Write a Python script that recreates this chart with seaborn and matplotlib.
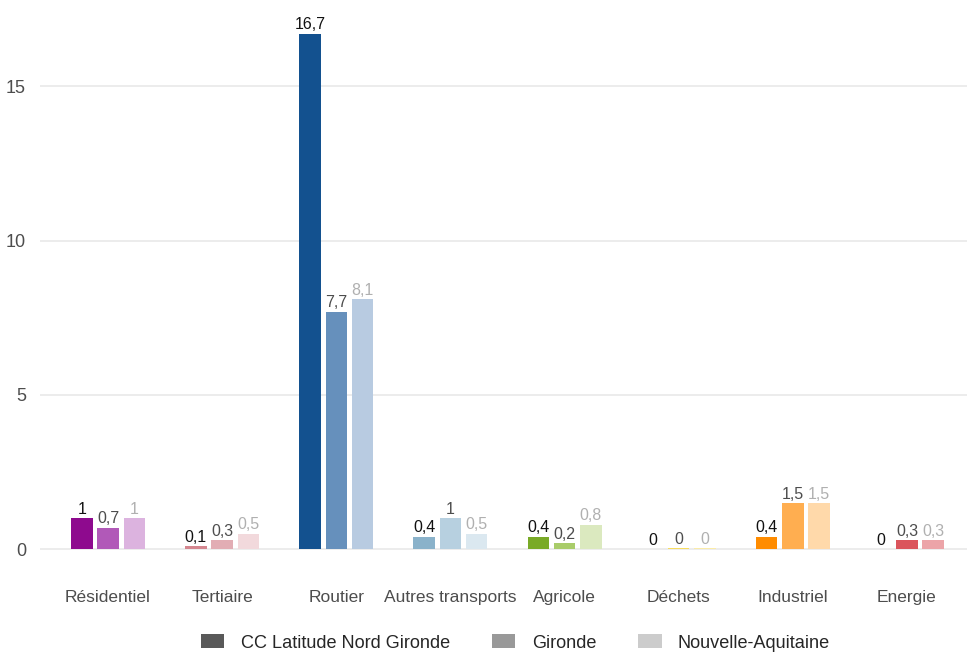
import pandas as pd
import seaborn as sns
import matplotlib.pyplot as plt
from matplotlib.patches import Patch

# données
secteurs = ["Résidentiel", "Tertiaire", "Routier", "Autres transports",
            "Agricole", "Déchets", "Industriel", "Energie"]
zones = ["CC Latitude Nord Gironde", "Gironde", "Nouvelle-Aquitaine"]
cc_lng = [1, 0.1, 16.7, 0.4, 0.4, 0, 0.4, 0]
gironde = [0.7, 0.3, 7.7, 1, 0.2, 0.04, 1.5, 0.3]
nouvelle_aquitaine = [1, 0.5, 8.1, 0.5, 0.8, 0.04, 1.5, 0.3]
y_ticks = [0, 5, 10, 15]

# couleurs par secteur (foncé, moyen, clair)
couleurs = [
    ["#8e0a8e", "#b159b8", "#dcb3df"],
    ["#d4868f", "#e2adb4", "#f2d9dc"],
    ["#13518f", "#6690bc", "#b8cbe1"],
    ["#8ab2ca", "#b7d0e0", "#dbe8f0"],
    ["#79aa27", "#a9cc6a", "#dbe9bf"],
    ["#f2c81a", "#f7dc5e", "#faeba8"],
    ["#ff8c00", "#ffae50", "#ffd9aa"],
    ["#cc1f28", "#db555c", "#eca4a8"],
]
couleurs_legende = ["#595959", "#999999", "#cccccc"]
couleurs_labels = ["#111111", "#4d4d4d", "#b0b0b0"]

df = pd.DataFrame({
    "secteur": secteurs * 3,
    "zone": [z for z in zones for _ in secteurs],
    "valeur": cc_lng + gironde + nouvelle_aquitaine,
})

sns.set_style("white")
plt.rcParams["font.family"] = ["Liberation Sans", "DejaVu Sans"]

fig = plt.figure(figsize=(9.67, 6.54), dpi=100)
ax = fig.add_axes([40 / 967, 79 / 654, 927 / 967, 567 / 654])

sns.barplot(data=df, x="secteur", y="valeur", hue="zone", order=secteurs,
            hue_order=zones, width=0.69, gap=0.18, ax=ax, legend=False,
            linewidth=0, saturation=1)

# recolorer chaque barre selon son secteur
for j, cont in enumerate(ax.containers):
    for i, bar in enumerate(cont):
        bar.set_facecolor(couleurs[i][j])
        bar.set_edgecolor("none")
    vals = [cc_lng, gironde, nouvelle_aquitaine][j]
    labels = [("%g" % round(v, 1)).replace(".", ",") for v in vals]
    ax.bar_label(cont, labels=labels, color=couleurs_labels[j], fontsize=11.5, padding=1)

ax.set_xlim(-0.596, 7.526)
ax.set_ylim(-0.835, 17.535)
ax.set_yticks(y_ticks)
ax.yaxis.grid(True, color="#ebebeb", linewidth=1.3)
ax.set_axisbelow(True)
for s in ax.spines.values():
    s.set_visible(False)
ax.set_xlabel("")
ax.set_ylabel("")
ax.tick_params(axis="x", length=0, pad=11, labelsize=12.5, labelcolor="#4d4d4d")
ax.tick_params(axis="y", length=0, pad=10, labelsize=13, labelcolor="#4d4d4d")

handles = [Patch(facecolor=c, edgecolor="none") for c in couleurs_legende]
fig.legend(handles, zones, loc="center", bbox_to_anchor=(0.533, 0.017), ncol=3,
           frameon=False, fontsize=13.1, handlelength=1.3, handleheight=0.8,
           columnspacing=2.3, handletextpad=0.9, borderpad=0.2)

fig.savefig("out.png", dpi=100)
